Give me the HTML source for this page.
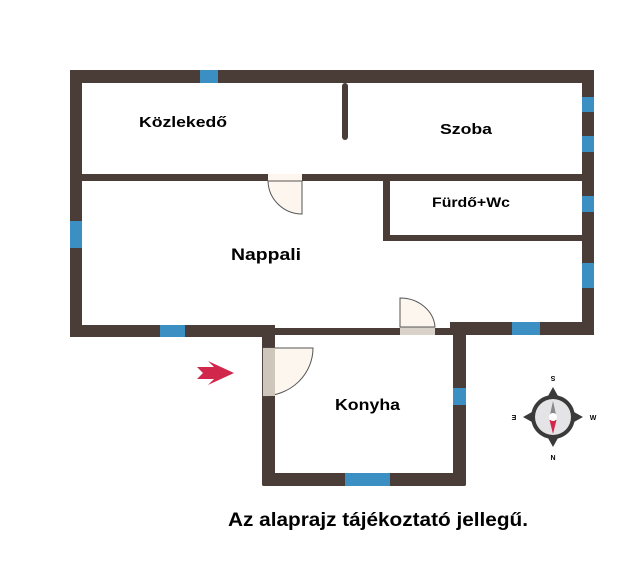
<!DOCTYPE html>
<html><head><meta charset="utf-8"><style>
html,body{margin:0;padding:0;background:#fff;}
svg{display:block;}
text{font-family:"Liberation Sans",sans-serif;font-weight:bold;fill:#000;}
</style></head><body>
<svg width="640" height="576" viewBox="0 0 640 576" xmlns="http://www.w3.org/2000/svg">
<g fill="#4a3d37">
<rect x="70" y="70" width="524" height="13" rx="3"/>
<rect x="70" y="70" width="12" height="267"/>
<rect x="582" y="70" width="12" height="255"/>
<rect x="70" y="325" width="205" height="12"/>
<rect x="270" y="328" width="190" height="7"/>
<rect x="450" y="322" width="144" height="13"/>
<rect x="262" y="328" width="13" height="158" rx="2"/>
<rect x="262" y="473" width="204" height="13" rx="2"/>
<rect x="453" y="324" width="13" height="162" rx="2"/>
<rect x="82" y="174" width="500" height="7"/>
<rect x="342" y="83" width="6" height="57" rx="3"/>
<rect x="383" y="181" width="7" height="60"/>
<rect x="383" y="235" width="199" height="6"/>
</g>
<g fill="#3b8fc3">
<rect x="200" y="70" width="18" height="13"/>
<rect x="582" y="97" width="12" height="15"/>
<rect x="582" y="136" width="12" height="16"/>
<rect x="582" y="196" width="12" height="16"/>
<rect x="582" y="263" width="12" height="25"/>
<rect x="70" y="221" width="12" height="27"/>
<rect x="160" y="325" width="25" height="12"/>
<rect x="512" y="322" width="28" height="13"/>
<rect x="453" y="388" width="13" height="17"/>
<rect x="345" y="473" width="45" height="13"/>
</g>
<rect x="268" y="174" width="34" height="7" fill="#fdf6ee"/>
<path d="M302 181 L302 214 A34 34 0 0 1 268 181 Z" fill="#fdf6ee" stroke="#555" stroke-width="1"/>
<rect x="400" y="327" width="35" height="8" fill="#d9d2c8"/>
<path d="M400 327 L400 298 A35 31 0 0 1 435 327 Z" fill="#fdf6ee" stroke="#555" stroke-width="1"/>
<path d="M263 348 L313 348 A50 48 0 0 1 263 396 Z" fill="#fdf6ee" stroke="#555" stroke-width="1"/>
<rect x="263" y="348" width="12" height="48" fill="#cfc6bb"/>
<path d="M197 367 L214 367 L208 361 L234 373 L208 385 L214 379 L197 379 L203 373 Z" fill="#d0274a"/>
<g transform="translate(553,417)">
<path d="M0 -30 L5 -21 L21 -5 L30 0 L21 5 L5 21 L0 30 L-5 21 L-21 5 L-30 0 L-21 -5 L-5 -21 Z" fill="#3a3a3a"/>
<circle r="22" fill="#3a3a3a"/>
<circle r="18" fill="#e4e4e6"/>
<path d="M-3.5 0 L0 -16 L3.5 0 Z" fill="#888"/>
<path d="M-3.5 3 L0 17 L3.5 3 Z" fill="#d0274a"/>
<circle r="4" fill="#fff"/>
<text x="0" y="-37" font-size="7" text-anchor="middle" fill="#555" transform="rotate(180 0 -39)">S</text>
<text x="0" y="43" font-size="7" text-anchor="middle" fill="#555">N</text>
<text x="-39" y="3" font-size="7" text-anchor="middle" fill="#555">Ǝ</text>
<text x="40" y="3" font-size="7" text-anchor="middle" fill="#555">W</text>
</g>
<text x="139" y="127" font-size="15" textLength="88" lengthAdjust="spacingAndGlyphs">Közlekedő</text>
<text x="440" y="134" font-size="15" textLength="52" lengthAdjust="spacingAndGlyphs">Szoba</text>
<text x="432" y="207" font-size="14" textLength="78" lengthAdjust="spacingAndGlyphs">Fürdő+Wc</text>
<text x="231" y="260" font-size="17" textLength="70" lengthAdjust="spacingAndGlyphs">Nappali</text>
<text x="335" y="410" font-size="16" textLength="65" lengthAdjust="spacingAndGlyphs">Konyha</text>
<text x="228" y="526" font-size="19" textLength="300" lengthAdjust="spacingAndGlyphs">Az alaprajz tájékoztató jellegű.</text>
</svg>
</body></html>
